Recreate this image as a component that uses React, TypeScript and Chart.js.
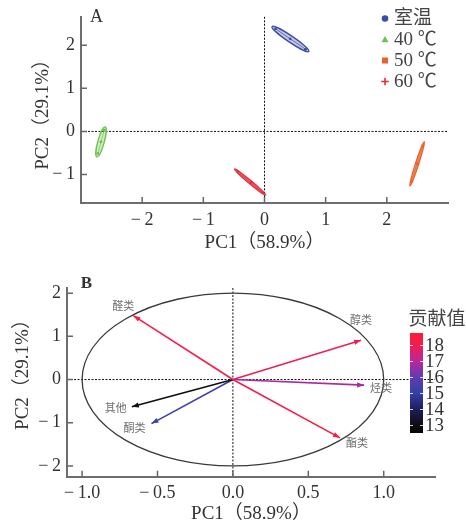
import React, { useEffect, useRef } from "react";
import { Chart, registerables } from "chart.js";
Chart.register(...registerables);

// ---------------- Panel A data (PCA scores) ----------------
const GROUP_NAMES = ["室温", "40 ℃", "50 ℃", "60 ℃"];
const RT_PC1 = [0.18, 0.42, 0.67];
const RT_PC2 = [2.38, 2.15, 1.91];
const T40_PC1 = [-2.62, -2.675, -2.725];
const T40_PC2 = [0.03, -0.24, -0.51];
const T50_PC1 = [2.59, 2.5, 2.4];
const T50_PC2 = [-0.33, -0.75, -1.17];
const T60_PC1 = [-0.44, -0.22, -0.03];
const T60_PC2 = [-0.93, -1.19, -1.42];
const A_X_TICKS = [-2, -1, 0, 1, 2];
const A_Y_TICKS = [-1, 0, 1, 2];
const X_TITLE = "PC1（58.9%）";
const Y_TITLE = "PC2（29.1%）";

// ---------------- Panel B data (loadings) ----------------
const VAR_NAMES = ["醛类", "醇类", "烃类", "酯类", "其他", "酮类"];
const VAR_PC1 = [-0.66, 0.85, 0.87, 0.71, -0.67, -0.54];
const VAR_PC2 = [1.48, 0.91, -0.13, -1.35, -0.63, -1.02];
const VAR_CONTRIB = [18.3, 17.9, 16.8, 18.2, 13.0, 15.2];
const B_X_TICKS = [-1, -0.5, 0, 0.5, 1];
const B_Y_TICKS = [-2, -1, 0, 1, 2];
const CBAR_TICKS = [13, 14, 15, 16, 17, 18];
const CBAR_TITLE = "贡献值";
const CIRCLE_RADII = [1, 2];

// ---------------- styles ----------------
const SERIF = '"Liberation Serif", "Times New Roman", "Noto Sans CJK SC", serif';
const CJK = '"Noto Sans CJK SC", sans-serif';
const GROUP_COLORS = ["#3b4fa3", "#6cc24a", "#e8632b", "#e0313d"];
const GROUP_FILL_ALPHA = ["50", "50", "a0", "b0"];
const GROUP_HALF_WIDTH = [3.2, 3.2, 1.6, 1.6];
const LABEL_OFFSETS = [[-10, -10], [0, -20], [17, 3], [17, 5], [-16, 1], [-17, 4]];
const CMAP: [number, number[]][] = [
  [12.5, [5, 5, 5]],
  [13, [14, 14, 18]],
  [14, [30, 30, 92]],
  [15, [50, 66, 168]],
  [16, [98, 58, 178]],
  [17, [188, 38, 155]],
  [18, [242, 30, 78]],
  [18.75, [255, 26, 56]],
];
const CBAR_MIN = 12.5;
const CBAR_MAX = 18.75;

function cmap(v: number): string {
  if (v <= CMAP[0][0]) return `rgb(${CMAP[0][1].join(",")})`;
  for (let i = 1; i < CMAP.length; i++) {
    if (v <= CMAP[i][0]) {
      const [v0, c0] = CMAP[i - 1];
      const [v1, c1] = CMAP[i];
      const t = (v - v0) / (v1 - v0);
      const c = c0.map((a, k) => Math.round(a + (c1[k] - a) * t));
      return `rgb(${c.join(",")})`;
    }
  }
  return `rgb(${CMAP[CMAP.length - 1][1].join(",")})`;
}

function fmtInt(v: number) {
  return v < 0 ? "\u2212\u2009" + Math.abs(v) : String(v);
}
function fmt1(v: number) {
  return v < 0 ? "\u2212\u2009" + Math.abs(v).toFixed(1) : v.toFixed(1);
}

function drawInwardTicks(chart: any, len: number) {
  const { ctx, chartArea, scales } = chart;
  const x = scales.x, y = scales.y;
  ctx.save();
  ctx.strokeStyle = "#666";
  ctx.lineWidth = 1.5;
  ctx.beginPath();
  x.ticks.forEach((t: any) => {
    const px = x.getPixelForValue(t.value);
    ctx.moveTo(px, chartArea.bottom);
    ctx.lineTo(px, chartArea.bottom - len);
  });
  y.ticks.forEach((t: any) => {
    const py = y.getPixelForValue(t.value);
    ctx.moveTo(chartArea.left, py);
    ctx.lineTo(chartArea.left + len, py);
  });
  ctx.stroke();
  ctx.restore();
}

function drawZeroLines(chart: any) {
  const { ctx, chartArea, scales } = chart;
  const x0 = scales.x.getPixelForValue(0);
  const y0 = scales.y.getPixelForValue(0);
  ctx.save();
  ctx.strokeStyle = "#111";
  ctx.lineWidth = 1;
  ctx.setLineDash([2, 1.5]);
  ctx.beginPath();
  ctx.moveTo(chartArea.left, y0);
  ctx.lineTo(chartArea.right, y0);
  ctx.moveTo(x0, chartArea.top);
  ctx.lineTo(x0, chartArea.bottom);
  ctx.stroke();
  ctx.restore();
}

function axisCommon(ticks: number[], min: number, max: number, fmt: (v: number) => string, title: string, showTitle: boolean, titlePad: any, fit: (s: any) => void) {
  return {
    type: "linear" as const,
    min,
    max,
    afterBuildTicks: (s: any) => {
      s.ticks = ticks.map((v) => ({ value: v }));
    },
    afterFit: fit,
    grid: { display: false, drawTicks: false },
    border: { display: true, color: "#6e6e6e", width: 2 },
    ticks: {
      color: "#333",
      font: { family: SERIF, size: 18 },
      padding: 6,
      maxRotation: 0,
      autoSkip: false,
      callback: (v: any) => fmt(Number(v)),
    },
    title: {
      display: showTitle,
      text: title,
      color: "#333",
      font: { family: SERIF, size: 19, lineHeight: 1.0 },
      padding: titlePad,
    },
  };
}

const panelAPlugin = {
  id: "panelA",
  beforeDatasetsDraw(chart: any) {
    drawZeroLines(chart);
    const { ctx, scales } = chart;
    const x = scales.x, y = scales.y;
    chart.data.datasets.forEach((ds: any, i: number) => {
      const pts = ds.data;
      const p1 = pts[0], p2 = pts[pts.length - 1];
      const x1 = x.getPixelForValue(p1.x), y1 = y.getPixelForValue(p1.y);
      const x2 = x.getPixelForValue(p2.x), y2 = y.getPixelForValue(p2.y);
      const cx = (x1 + x2) / 2, cy = (y1 + y2) / 2;
      const half = Math.hypot(x2 - x1, y2 - y1) / 2;
      const ang = Math.atan2(y2 - y1, x2 - x1);
      ctx.save();
      ctx.beginPath();
      ctx.ellipse(cx, cy, half * 1.12 + 2, GROUP_HALF_WIDTH[i], ang, 0, Math.PI * 2);
      ctx.fillStyle = GROUP_COLORS[i] + GROUP_FILL_ALPHA[i];
      ctx.fill();
      ctx.strokeStyle = GROUP_COLORS[i];
      ctx.lineWidth = 1.3;
      ctx.stroke();
      ctx.beginPath();
      ctx.moveTo(x1, y1);
      ctx.lineTo(x2, y2);
      ctx.lineWidth = 1;
      ctx.globalAlpha = 0.7;
      ctx.stroke();
      ctx.restore();
    });
  },
  afterDraw(chart: any) {
    drawInwardTicks(chart, 6);
    const { ctx } = chart;
    ctx.save();
    ctx.fillStyle = "#333";
    ctx.font = `18px ${SERIF}`;
    ctx.textBaseline = "middle";
    ctx.textAlign = "center";
    ctx.fillText("A", 96.5, 17);
    const rows = [18.5, 39.5, 60.5, 81.5];
    const mx = 385;
    GROUP_NAMES.forEach((name, i) => {
      const cy = rows[i];
      ctx.fillStyle = GROUP_COLORS[i];
      ctx.strokeStyle = GROUP_COLORS[i];
      ctx.beginPath();
      if (i === 0) {
        ctx.arc(mx, cy, 3.3, 0, Math.PI * 2);
        ctx.fill();
      } else if (i === 1) {
        ctx.moveTo(mx, cy - 3.5);
        ctx.lineTo(mx + 3.5, cy + 2.8);
        ctx.lineTo(mx - 3.5, cy + 2.8);
        ctx.closePath();
        ctx.fill();
      } else if (i === 2) {
        ctx.rect(mx - 3, cy - 3, 6, 6);
        ctx.fill();
      } else {
        ctx.lineWidth = 1.6;
        ctx.moveTo(mx - 3.8, cy);
        ctx.lineTo(mx + 3.8, cy);
        ctx.moveTo(mx, cy - 3.8);
        ctx.lineTo(mx, cy + 3.8);
        ctx.stroke();
      }
      ctx.fillStyle = "#444";
      ctx.textAlign = "left";
      ctx.textBaseline = "middle";
      ctx.font = `19px ${SERIF}`;
      ctx.fillText(name, 394, cy + 1);
    });
    ctx.restore();
  },
};

const panelBPlugin = {
  id: "panelB",
  beforeDatasetsDraw(chart: any) {
    drawZeroLines(chart);
    const { ctx, scales } = chart;
    const x = scales.x, y = scales.y;
    const cx = x.getPixelForValue(0), cy = y.getPixelForValue(0);
    const rx = Math.abs(x.getPixelForValue(CIRCLE_RADII[0]) - cx);
    const ry = Math.abs(y.getPixelForValue(CIRCLE_RADII[1]) - cy);
    ctx.save();
    ctx.beginPath();
    ctx.ellipse(cx, cy, rx, ry, 0, 0, Math.PI * 2);
    ctx.strokeStyle = "#3a3a3a";
    ctx.lineWidth = 1.3;
    ctx.stroke();
    ctx.restore();
  },
  afterDatasetsDraw(chart: any) {
    const { ctx, scales } = chart;
    const x = scales.x, y = scales.y;
    ctx.save();
    VAR_NAMES.forEach((name, i) => {
      const x0 = x.getPixelForValue(0), y0 = y.getPixelForValue(0);
      const x1 = x.getPixelForValue(VAR_PC1[i]), y1 = y.getPixelForValue(VAR_PC2[i]);
      const ang = Math.atan2(y1 - y0, x1 - x0);
      const col = cmap(VAR_CONTRIB[i]);
      const L = 7, W = 2.6;
      ctx.fillStyle = col;
      ctx.beginPath();
      ctx.moveTo(x1, y1);
      ctx.lineTo(x1 - L * Math.cos(ang) + W * Math.sin(ang), y1 - L * Math.sin(ang) - W * Math.cos(ang));
      ctx.lineTo(x1 - L * Math.cos(ang) - W * Math.sin(ang), y1 - L * Math.sin(ang) + W * Math.cos(ang));
      ctx.closePath();
      ctx.fill();
      ctx.fillStyle = "#6e6e6e";
      ctx.font = `11px ${CJK}`;
      ctx.textAlign = "center";
      ctx.textBaseline = "middle";
      ctx.fillText(name, x1 + LABEL_OFFSETS[i][0], y1 + LABEL_OFFSETS[i][1]);
    });
    ctx.restore();
  },
  afterDraw(chart: any) {
    drawInwardTicks(chart, 6);
    const { ctx } = chart;
    ctx.save();
    ctx.fillStyle = "#333";
    ctx.font = `19px ${SERIF}`;
    ctx.textAlign = "center";
    ctx.textBaseline = "middle";
    ctx.translate(23, 112);
    ctx.rotate(-Math.PI / 2);
    ctx.fillText(Y_TITLE, 0, 0);
    ctx.restore();
    ctx.save();
    ctx.fillStyle = "#333";
    ctx.font = `bold 17px ${SERIF}`;
    ctx.textAlign = "center";
    ctx.textBaseline = "middle";
    ctx.fillText("B", 86.5, 26);
    // colorbar
    const bx = 410, bw = 13, top = 75, bottom = 175;
    const vy = (v: number) => bottom - ((v - CBAR_MIN) / (CBAR_MAX - CBAR_MIN)) * (bottom - top);
    const g = ctx.createLinearGradient(0, bottom, 0, top);
    CMAP.forEach(([v]) => g.addColorStop((v - CBAR_MIN) / (CBAR_MAX - CBAR_MIN), cmap(v)));
    ctx.fillStyle = g;
    ctx.fillRect(bx, top, bw, bottom - top);
    ctx.strokeStyle = "rgba(255,255,255,0.8)";
    ctx.lineWidth = 1;
    ctx.beginPath();
    CBAR_TICKS.forEach((v) => {
      const py = Math.round(vy(v)) + 0.5;
      ctx.moveTo(bx + bw - 3, py);
      ctx.lineTo(bx + bw, py);
      ctx.moveTo(bx, py);
      ctx.lineTo(bx + 3, py);
    });
    ctx.stroke();
    ctx.fillStyle = "#333";
    ctx.font = `19px ${SERIF}`;
    ctx.textAlign = "left";
    ctx.textBaseline = "middle";
    CBAR_TICKS.forEach((v) => {
      ctx.fillText(String(v), bx + bw + 2, vy(v) + 1);
    });
    ctx.font = `19px ${CJK}`;
    ctx.textAlign = "center";
    ctx.fillStyle = "#444";
    ctx.fillText(CBAR_TITLE, 437, 60);
    ctx.restore();
  },
};

export default function App() {
  const refA = useRef<HTMLCanvasElement>(null);
  const refB = useRef<HTMLCanvasElement>(null);

  useEffect(() => {
    const groups = [
      [RT_PC1, RT_PC2],
      [T40_PC1, T40_PC2],
      [T50_PC1, T50_PC2],
      [T60_PC1, T60_PC2],
    ];
    const chartA = new Chart(refA.current!, {
      type: "scatter",
      data: {
        datasets: groups.map(([xs, ys], i) => ({
          label: GROUP_NAMES[i],
          data: xs.map((v, k) => ({ x: v, y: ys[k] })),
          backgroundColor: GROUP_COLORS[i],
          borderColor: GROUP_COLORS[i],
          pointRadius: 1.4,
          pointBorderWidth: 0,
        })),
      },
      options: {
        responsive: false,
        maintainAspectRatio: false,
        animation: false,
        events: [],
        layout: { padding: { left: 0, top: 13, right: 18, bottom: 0 } },
        plugins: { legend: { display: false }, tooltip: { enabled: false } },
        scales: {
          x: axisCommon(A_X_TICKS, -3, 3, fmtInt, X_TITLE, true, { top: 0, bottom: 5.5 }, (s: any) => { s.height = 55; }),
          y: axisCommon(A_Y_TICKS, -1.66, 2.66, fmtInt, Y_TITLE, true, { top: 33.5, bottom: 0 }, (s: any) => { s.width = 81; }),
        },
      },
      plugins: [panelAPlugin],
    });

    const chartB = new Chart(refB.current!, {
      type: "scatter",
      data: {
        datasets: VAR_NAMES.map((name, i) => ({
          label: name,
          data: [
            { x: 0, y: 0 },
            { x: VAR_PC1[i], y: VAR_PC2[i] },
          ],
          showLine: true,
          borderColor: cmap(VAR_CONTRIB[i]),
          backgroundColor: cmap(VAR_CONTRIB[i]),
          borderWidth: 1.6,
          pointRadius: 0,
        })),
      },
      options: {
        responsive: false,
        maintainAspectRatio: false,
        animation: false,
        events: [],
        layout: { padding: { left: 0, top: 30, right: 31, bottom: 0 } },
        plugins: { legend: { display: false }, tooltip: { enabled: false } },
        scales: {
          x: axisCommon(B_X_TICKS, -1.1, 1.34, fmt1, X_TITLE, true, { top: 0, bottom: 0 }, (s: any) => { s.height = 47.3; }),
          y: axisCommon(B_Y_TICKS, -2.25, 2.12, fmtInt, Y_TITLE, false, { top: 0, bottom: 0 }, (s: any) => { s.width = 67; }),
        },
      },
      plugins: [panelBPlugin],
    });

    return () => {
      chartA.destroy();
      chartB.destroy();
    };
  }, []);

  return (
    <div style={{ position: "absolute", left: 0, top: 0, width: 466, height: 524, background: "#fff" }}>
      <canvas ref={refA} width={466} height={258} style={{ position: "absolute", left: 0, top: 0, width: 466, height: 258 }} />
      <canvas ref={refB} width={466} height={266} style={{ position: "absolute", left: 0, top: 258, width: 466, height: 266 }} />
    </div>
  );
}
